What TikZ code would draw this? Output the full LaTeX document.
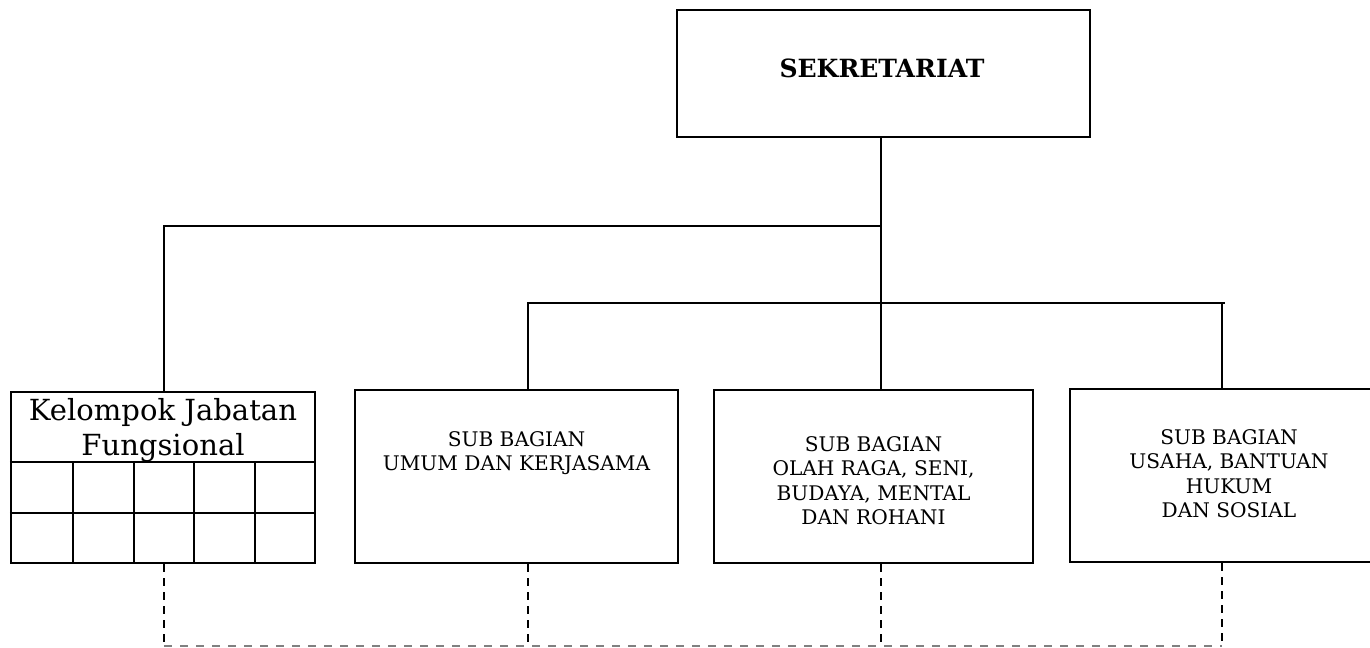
\documentclass[tikz,border=0pt]{standalone}
\usepackage{fontspec}
\setmainfont{DejaVu Serif}
\begin{document}
\begin{tikzpicture}[x=0.75pt,y=-0.75pt,
  box/.style={draw,line width=1.6pt,rectangle,inner sep=0pt},
  bsize/.style 2 args={minimum width=#1*0.75pt,minimum height=#2*0.75pt},
  conn/.style={line width=1.5pt},
  dconn/.style={line width=1.5pt,dash pattern=on 6pt off 4.5pt},
  gconn/.style={line width=0.9pt,gray,dash pattern=on 6pt off 6pt},
  txt/.style={inner sep=0pt,align=center,font=\fontsize{15.1}{18.4}\selectfont},
  grid/.style={line width=1.6pt}]
\useasboundingbox (0,0) rectangle (1370,647);
% boxes
\node[box,bsize={413}{127}] (sek) at (883.5,73.5) {};
\node[inner sep=0pt,font=\fontsize{18.8}{22}\selectfont\bfseries] (sekt) at (882,68) {SEKRETARIAT};
\node[box,bsize={304}{171}] (kjf) at (163,477.5) {};
\node[box,bsize={323}{173}] (b2) at (516.5,476.5) {};
\node[box,bsize={319}{173}] (b3) at (873.5,476.5) {};
\node[box,bsize={318}{173}] (b4) at (1229,475.5) {};
% texts
\node[inner sep=0pt,align=center,anchor=north,font=\fontsize{21.8}{26.3}\selectfont] (kjft) at (163,398) {Kelompok Jabatan\\Fungsional};
\node[txt,anchor=north] (b2t) at (516.5,431) {SUB BAGIAN\\UMUM DAN KERJASAMA};
\node[txt,anchor=north] (b3t) at (873.5,436) {SUB BAGIAN\\OLAH RAGA, SENI,\\BUDAYA, MENTAL\\DAN ROHANI};
\node[txt,anchor=north] (b4t) at (1229,429) {SUB BAGIAN\\USAHA, BANTUAN\\HUKUM\\DAN SOSIAL};
% grid in kjf
\draw[grid] (kjf.west |- 0,462) -- (kjf.east |- 0,462);
\draw[grid] (kjf.west |- 0,513) -- (kjf.east |- 0,513);
\foreach \cx in {73,134,194,255}{\draw[grid] (\cx,462) -- (kjf.south -| \cx,0);}
% connectors
\coordinate (ja) at (881,226);
\coordinate (jb) at (881,303);
\coordinate (k) at (164,226);
\coordinate (l2) at (528,303);
\coordinate (l4) at (1222,303);
\coordinate (l4e) at (1225,303);
\draw[conn] (sek.south -| ja) -- (ja) -- (jb) -- (b3.north -| jb);
\draw[conn] (ja) -- (k) -- (k |- kjf.north);
\draw[conn] (l2 |- b2.north) -- (l2) -- (l4e);
\draw[conn] (l4) -- (l4 |- b4.north);
% dashed
\coordinate (d1) at (164,646);
\coordinate (d2) at (528,646);
\coordinate (d3) at (881,646);
\coordinate (d4) at (1222,646);
\draw[dconn] (kjf.south -| d1) -- (d1);
\draw[dconn] (b2.south -| d2) -- (d2);
\draw[dconn] (b3.south -| d3) -- (d3);
\draw[dconn] (b4.south -| d4) -- (d4);
\draw[gconn] (d1) -- (d4);
\end{tikzpicture}
\end{document}
